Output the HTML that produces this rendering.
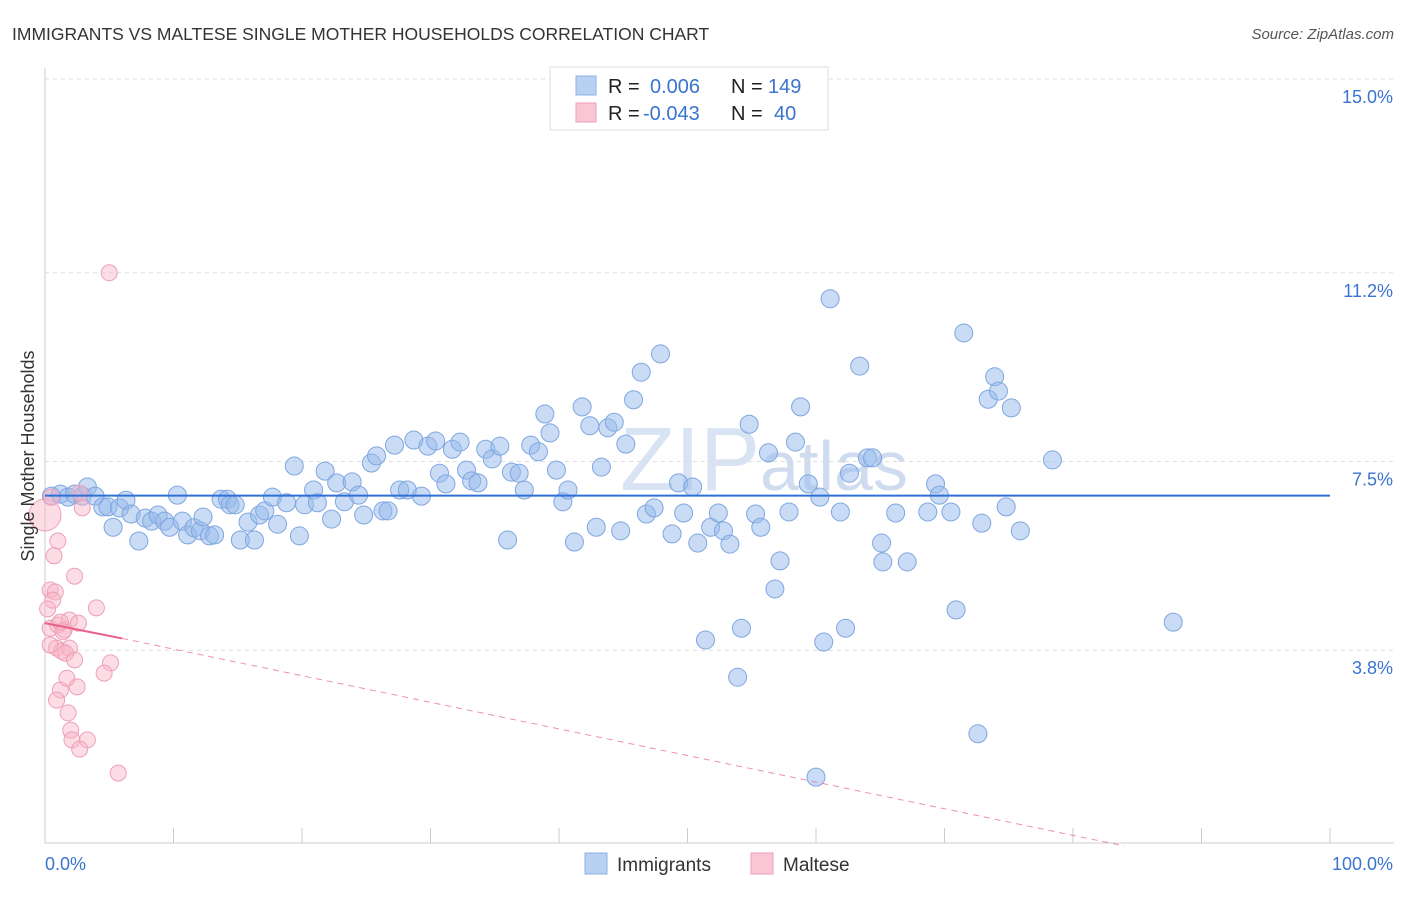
<!DOCTYPE html>
<html><head><meta charset="utf-8"><style>
body{margin:0;background:#fff;font-family:"Liberation Sans",sans-serif;}
svg text{font-family:"Liberation Sans",sans-serif;}
</style></head><body>
<svg id="chart" width="1406" height="892" xmlns="http://www.w3.org/2000/svg">
<text x="12" y="40" font-size="17.5" fill="#333">IMMIGRANTS VS MALTESE SINGLE MOTHER HOUSEHOLDS CORRELATION CHART</text>
<text x="1394" y="39" font-size="15" fill="#555" font-style="italic" text-anchor="end">Source: ZipAtlas.com</text>
<text x="620" y="490" font-size="90" fill="#d8e3f3" font-family="Liberation Serif">ZIP<tspan font-family="Liberation Sans" font-size="70" fill="#cfdcf0">atlas</tspan></text>
<g id="grid"></g>
<g id="axes"></g>
<g id="marks"></g>
<text transform="translate(34,456) rotate(-90)" font-size="18" fill="#333" text-anchor="middle">Single Mother Households</text>
<g>
<rect x="550" y="67" width="278" height="63" fill="#fff" stroke="#ddd"/>
<rect x="576" y="76" width="20" height="19" fill="#b8d0f2" stroke="#8fb2e6"/>
<rect x="576" y="103" width="20" height="19" fill="#f9c6d6" stroke="#ee9fb8"/>
<text x="608" y="93" font-size="20" fill="#222">R = <tspan fill="#3a74d0" x="650">0.006</tspan><tspan fill="#222" x="731">N =</tspan><tspan fill="#3a74d0" x="768">149</tspan></text>
<text x="608" y="120" font-size="20" fill="#222">R = <tspan fill="#3a74d0" x="643">-0.043</tspan><tspan fill="#222" x="731">N =</tspan><tspan fill="#3a74d0" x="774">40</tspan></text>
</g>
<g>
<rect x="585" y="853" width="22" height="21" fill="#b8d0f2" stroke="#8fb2e6"/>
<text x="617" y="871" font-size="19" fill="#333">Immigrants</text>
<rect x="751" y="853" width="22" height="21" fill="#f9c6d6" stroke="#ee9fb8"/>
<text x="783" y="871" font-size="19" fill="#333">Maltese</text>
</g>
</svg>
<script>
const blueX=[0.5,1.2,1.8,2.3,2.9,3.3,3.9,4.5,4.9,5.3,5.8,6.3,6.7,7.3,7.8,8.3,8.8,9.3,9.7,10.3,10.7,11.1,11.6,12.1,12.3,12.8,13.2,13.7,14.2,14.4,14.8,15.2,15.8,16.3,16.7,17.1,17.7,18.1,18.8,19.4,19.8,20.2,20.9,21.2,21.8,22.3,22.7,23.3,23.9,24.4,24.8,25.4,25.8,26.3,26.7,27.2,27.6,28.2,28.7,29.3,29.8,30.4,30.7,31.2,31.7,32.3,32.8,33.2,33.7,34.3,34.8,35.4,36.0,36.3,36.9,37.3,37.8,38.4,38.9,39.3,39.8,40.3,40.7,41.2,41.8,42.4,42.9,43.3,43.8,44.3,44.8,45.2,45.8,46.4,46.8,47.4,47.9,48.8,49.3,49.7,50.4,50.8,51.4,51.8,52.4,52.8,53.3,54.2,53.9,54.8,55.3,55.7,56.3,56.8,57.2,57.9,58.4,58.8,59.4,60.0,60.3,60.6,61.1,61.9,62.3,62.6,63.4,64.0,64.4,65.1,65.2,66.2,67.1,68.7,69.3,69.6,70.5,70.9,71.5,72.9,73.4,73.9,74.2,74.8,75.2,75.9,78.4,72.6,87.8];
const blueY=[6.86,6.90,6.84,6.90,6.86,7.04,6.86,6.65,6.65,6.25,6.63,6.78,6.51,5.98,6.43,6.37,6.49,6.37,6.25,6.88,6.37,6.10,6.24,6.18,6.45,6.08,6.10,6.80,6.80,6.69,6.69,6.00,6.35,6.00,6.49,6.57,6.84,6.31,6.73,7.45,6.08,6.69,6.98,6.73,7.35,6.41,7.12,6.75,7.14,6.88,6.49,7.51,7.65,6.57,6.57,7.86,6.98,6.98,7.96,6.86,7.84,7.94,7.31,7.10,7.78,7.92,7.37,7.16,7.12,7.78,7.59,7.84,6.00,7.33,7.31,6.98,7.86,7.73,8.47,8.10,7.37,6.75,6.98,5.96,8.61,8.24,6.25,7.43,8.20,8.31,6.18,7.88,8.75,9.29,6.51,6.63,9.65,6.12,7.12,6.53,7.04,5.94,4.04,6.25,6.53,6.18,5.92,4.27,3.31,8.27,6.51,6.25,7.71,5.04,5.59,6.55,7.92,8.61,7.10,1.35,6.84,4.00,10.73,6.55,4.27,7.31,9.41,7.61,7.61,5.94,5.57,6.53,5.57,6.55,7.10,6.88,6.55,4.63,10.06,6.33,8.76,9.20,8.92,6.65,8.59,6.18,7.57,2.20,4.39];
const pinkX=[0,0.5,2.7,2.9,1.0,0.7,2.3,0.4,0.8,0.6,4.0,0.4,1.0,1.5,1.9,2.6,0.9,1.3,1.9,1.6,2.3,5.1,4.6,1.2,1.7,2.5,0.9,1.8,2.0,2.1,3.3,2.7,5.7,5.0,1.2,1.4,0.2,0.4];
const pinkY=[6.49,6.84,6.92,6.63,5.98,5.69,5.29,5.02,4.98,4.82,4.67,4.27,4.33,4.24,4.43,4.37,3.88,3.82,3.88,3.78,3.65,3.59,3.39,3.06,3.29,3.12,2.86,2.61,2.27,2.08,2.08,1.90,1.43,11.24,4.39,4.20,4.65,3.94];
const yTicks=[15.0,11.2,7.5,3.8];
const yTickLabels=["15.0%","11.2%","7.5%","3.8%"];
const blueTrend=[6.87,6.87];
const pinkTrend=[4.37,4.07,0.0];
const pinkTrendX=[0,6,84];
const NS="http://www.w3.org/2000/svg";
const sx=v=>45+v*12.85;
const sy=v=>81+(15-v)*51;
function mk(tag,attrs,parent){const e=document.createElementNS(NS,tag);for(const k in attrs)e.setAttribute(k,attrs[k]);parent.appendChild(e);return e;}
const grid=document.getElementById('grid'),axes=document.getElementById('axes'),marks=document.getElementById('marks');
yTicks.forEach((t,i)=>{
 const l=mk('line',{x1:45,x2:1394,y1:sy(t)-2,y2:sy(t)-2,stroke:'#ddd','stroke-dasharray':'4,4'},grid);
 
 
 const tx=mk('text',{x:1393,y:sy(t)+22,'font-size':18,fill:'#3a74d0','text-anchor':'end'},axes);
 tx.textContent=yTickLabels[i];
 
 
});
const ax=mk('line',{x1:45,x2:1394,y1:843,y2:843,stroke:'#ccc'},axes);


const ay=mk('line',{x1:45,x2:45,y1:68,y2:843,stroke:'#ccc'},axes);


for(let i=0;i<=10;i++){const t=mk('line',{x1:sx(i*10),x2:sx(i*10),y1:828,y2:843,stroke:'#ccc'},axes);
 
 }
const x0=mk('text',{x:45,y:870,'font-size':18,fill:'#3a74d0'},axes);x0.textContent='0.0%';


const x1=mk('text',{x:1393,y:870,'font-size':18,fill:'#3a74d0','text-anchor':'end'},axes);x1.textContent='100.0%';


blueX.forEach((x,i)=>{const c=mk('circle',{cx:sx(x),cy:sy(blueY[i]),r:9,fill:'rgba(150,185,235,0.5)',stroke:'#7fa6e0','stroke-width':1},marks);
 
 });
pinkX.forEach((x,i)=>{const c=mk('circle',{cx:sx(x),cy:sy(pinkY[i]),r:i===0?16:8,fill:'rgba(248,180,200,0.45)',stroke:'#ee9fb8','stroke-width':1},marks);
 
 });
const bl=mk('line',{x1:sx(0),x2:sx(100),y1:sy(blueTrend[0]),y2:sy(blueTrend[1]),stroke:'#2f6fd6','stroke-width':2},marks);


const pl=mk('line',{x1:sx(pinkTrendX[0]),x2:sx(pinkTrendX[1]),y1:sy(pinkTrend[0]),y2:sy(pinkTrend[1]),stroke:'#e8608c','stroke-width':2},marks);


const pd=mk('line',{x1:sx(pinkTrendX[1]),x2:sx(pinkTrendX[2]),y1:sy(pinkTrend[1]),y2:sy(pinkTrend[2]),stroke:'#e8608c','stroke-width':1,'stroke-dasharray':'6,5',opacity:0.7},marks);


</script>
</body></html>
